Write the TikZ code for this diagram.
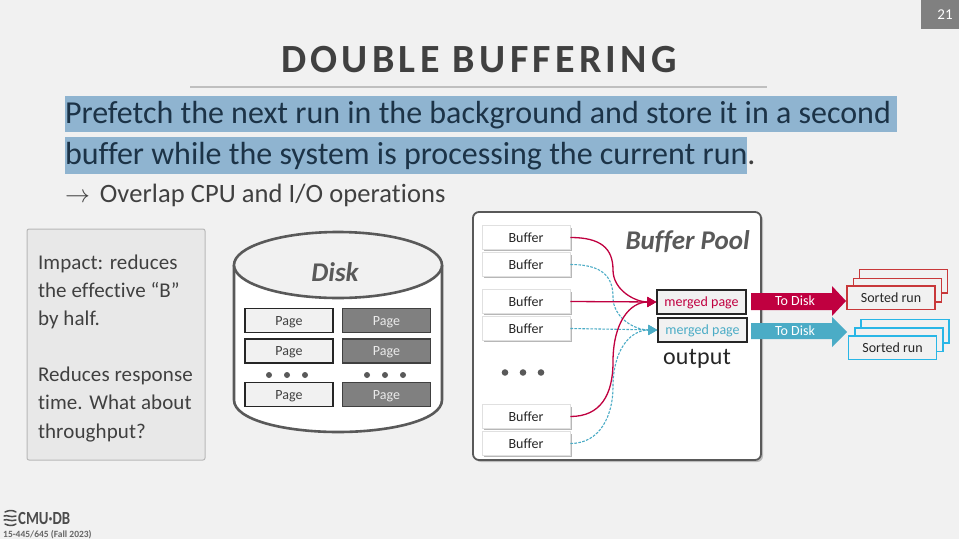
\documentclass[tikz,border=0pt]{standalone}
\usepackage{fontspec}
\setmainfont[RawFeature={-liga;-clig;-dlig}]{Carlito}
\usetikzlibrary{shadows,arrows.meta}
\definecolor{bgc}{HTML}{F1F1F1}
\definecolor{hl}{HTML}{8FB4D0}
\definecolor{hltext}{HTML}{1C3347}
\definecolor{ink}{HTML}{404040}
\definecolor{red1}{HTML}{C00040}
\definecolor{blue1}{HTML}{4BACC6}
\definecolor{stackred}{HTML}{C8383A}
\definecolor{stackblue}{HTML}{29B6E6}
\newcommand{\fs}[1]{\fontsize{#1}{#1}\selectfont}
\tikzset{
  x=1pt,y=-1pt,
  txt/.style={inner sep=0pt,outer sep=0pt,anchor=base west,text=ink},
  boxtext/.style={text height=9pt,text depth=0pt,font=\fs{14}},
  pagebox/.style={boxtext,draw=black!85,line width=1.4pt,fill=bgc,minimum width=88pt,minimum height=24pt,inner sep=0pt,text=ink},
  darkpage/.style={pagebox,fill=black!50,draw=black!75,text=black!8},
  bufbox/.style={boxtext,draw=black!12,line width=.8pt,fill=white,minimum width=88pt,minimum height=23.5pt,inner sep=0pt,text=black!85,
     drop shadow={shadow xshift=1.5pt,shadow yshift=-1.8pt,fill=black!40,opacity=.7}},
  mergebox/.style={boxtext,draw=black!85,line width=1.5pt,fill=bgc,minimum width=89pt,minimum height=24pt,inner sep=0pt},
  redline/.style={draw=red1,line width=1.3pt},
  blueline/.style={draw=blue1,line width=1.1pt,dash pattern=on 2.6pt off 1.4pt},
  tipr/.style={-{Triangle[length=9pt,width=10pt,fill=red1]}},
  tipb/.style={-{Triangle[length=9pt,width=10pt,fill=blue1]}},
  runred/.style={boxtext,draw=stackred,line width=1.5pt,fill=bgc,minimum width=88pt,minimum height=23.5pt,inner sep=0pt,text=black!85},
  runblue/.style={runred,draw=stackblue},
  dotc/.style={fill=black!65,draw=none},
  arrowlabel/.style={boxtext,inner sep=0pt,text=white}
}
\begin{document}
\begin{tikzpicture}
\useasboundingbox (0,0) rectangle (959,539);
\fill[bgc] (0,0) rectangle (959,539);
% page number
\fill[black!50] (921,0) rectangle (959,29);
\node[inner sep=0pt,text=white,font=\fs{15}] (pnum) at (945,15) {21};
% title
\node[inner sep=0pt,anchor=base,text=ink,font=\fs{40}\bfseries\addfontfeature{LetterSpace=10.7}] (title) at (479,72) {DOUBLE BUFFERING};
\fill[black!25] (190,86) rectangle (767,88);
% highlighted text
\fill[hl] (65,96) rectangle (897,132);
\fill[hl] (65,137) rectangle (747,174);
\node[txt,text=hltext,font=\fs{32}] (l1) at (65,123) {Prefetch the next run in the background and store it in a second};
\node[txt,text=hltext,font=\fs{32}] (l2) at (65,164) {buffer while the system is processing the current run\textcolor{ink}{.}};
\node[txt,font=\fs{26.5}\addfontfeature{LetterSpace=0.3}] (l3) at (65,202) {$\rightarrow$\hspace{10pt}Overlap CPU and I/O operations};
% left box
\draw[draw=black!28,fill=black!9,line width=1pt,rounded corners=2pt] (27,229) rectangle (205,460);
\foreach \t/\y/\n in {Impact: reduces/269/a,the effective “B”/297/b,by half./325/c,Reduces response/381/d,time. What about/409/e,throughput?/438/f}{
  \node[txt,font=\fs{21}\addfontfeature{LetterSpace=0.5}] (side\n) at (38,\y) {\t};
}
% disk
\draw[draw=black!65,line width=2.6pt,fill=white] (234,265) -- (234,400) .. controls (234,420) and (285,432) .. (338,432) .. controls (391,432) and (442,420) .. (442,400) -- (442,265);
\draw[draw=black!65,line width=2.6pt,fill=bgc] (338,265) ellipse [x radius=104pt,y radius=33pt];
\node[inner sep=0pt,text=black!65,font=\fs{27}\bfseries\itshape] (disk) at (335,272) {Disk};
\node[pagebox] (p1) at (289,320.5) {Page};
\node[pagebox] (p2) at (289,351) {Page};
\node[pagebox] (p3) at (289,394.5) {Page};
\node[darkpage] (q1) at (386.5,320.5) {Page};
\node[darkpage] (q2) at (386.5,351) {Page};
\node[darkpage] (q3) at (386.5,394.5) {Page};
\foreach \x in {269,287,305,367,385,403}{\fill[dotc] (\x,375) circle (3pt);}
% buffer pool
\draw[draw=black!65,line width=1.8pt,fill=white,rounded corners=6pt,
  drop shadow={shadow xshift=2pt,shadow yshift=-2pt,fill=black!40,opacity=.6}] (473,212) rectangle (761,460);
\node[inner sep=0pt,anchor=east,text=black!65,font=\fs{27}\bfseries\itshape] (bp) at (750,242) {Buffer Pool};
\node[bufbox] (b1) at (526,237.5) {Buffer};
\node[bufbox] (b2) at (526,264.5) {Buffer};
\node[bufbox] (b3) at (526,301.5) {Buffer};
\node[bufbox] (b4) at (526,328.5) {Buffer};
\node[bufbox] (b5) at (526,416.5) {Buffer};
\node[bufbox] (b6) at (526,443.5) {Buffer};
\foreach \x in {505,523,541}{\fill[dotc] (\x,372.5) circle (3.3pt);}
\node[mergebox,text=red1] (mr) at (701.5,302) {merged page};
\node[mergebox,text=blue1] (mb) at (702.5,330) {merged page};
\node[inner sep=0pt,text height=15pt,text depth=0pt,text=black!85,font=\fs{24}\addfontfeature{LetterSpace=1}] (out) at (697,357) {output};
% connectors
\coordinate (mrw) at (mr.west); \coordinate (mbw) at (mb.west);
\draw[blueline,tipb] (b2.east) .. controls +(30,0) and (613,275) .. (613,297) .. controls (613,318) and (635,330) .. (mbw);
\draw[blueline,tipb] (b4.east) -- (mbw);
\draw[blueline,tipb] (b6.east) .. controls +(30,0) and (613,415) .. (613,387) .. controls (613,350) and (630,330) .. (mbw);
\draw[redline,tipr] (b1.east) .. controls +(30,0) and (613,248) .. (613,270) .. controls (613,290) and (635,302) .. (mrw);
\draw[redline,tipr] (b3.east) -- (mrw);
\draw[redline,tipr] (b5.east) .. controls +(30,0) and (613,395) .. (613,362) .. controls (613,322) and (630,302) .. (mrw);
% to disk arrows
\fill[red1] (751,293) -- (832,293) -- (832,286) -- (846,301) -- (832,316) -- (832,310) -- (751,310) -- cycle;
\node[arrowlabel] (td1) at (795,301) {To Disk};
\fill[blue1] (751,323) -- (832,323) -- (832,317) -- (847,332) -- (832,347) -- (832,339) -- (751,339) -- cycle;
\node[arrowlabel] (td2) at (795,331) {To Disk};
% sorted runs
\node[runred] (r3) at (903.5,281) {};
\node[runred] (r2) at (897.5,290) {};
\node[runred] (r1) at (891,297.5) {Sorted run};
\node[runblue] (s3) at (905,331) {};
\node[runblue] (s2) at (899,339.5) {};
\node[runblue] (s1) at (892.5,347.5) {Sorted run};
% logo
\begin{scope}[draw=black!70,line width=1.5pt,line cap=round]
\draw (5,512) .. controls (9,510) and (13,510) .. (16,512);
\draw (4,516) .. controls (8,514.5) and (10,518) .. (16,516);
\draw (4,520) .. controls (8,518.5) and (10,522) .. (16,520);
\draw (5,524) .. controls (9,526) and (13,526) .. (16,524);
\end{scope}
\node[inner sep=0pt,anchor=base west,text=black!70,font=\fs{18.5}\bfseries] (logo) at (18,524) {\scalebox{.8}[1]{CMU·DB}};
\node[inner sep=0pt,anchor=base west,text=black!60,font=\fs{9.5}\bfseries] (course) at (3,537) {15-445/645 (Fall 2023)};
\end{tikzpicture}
\end{document}
